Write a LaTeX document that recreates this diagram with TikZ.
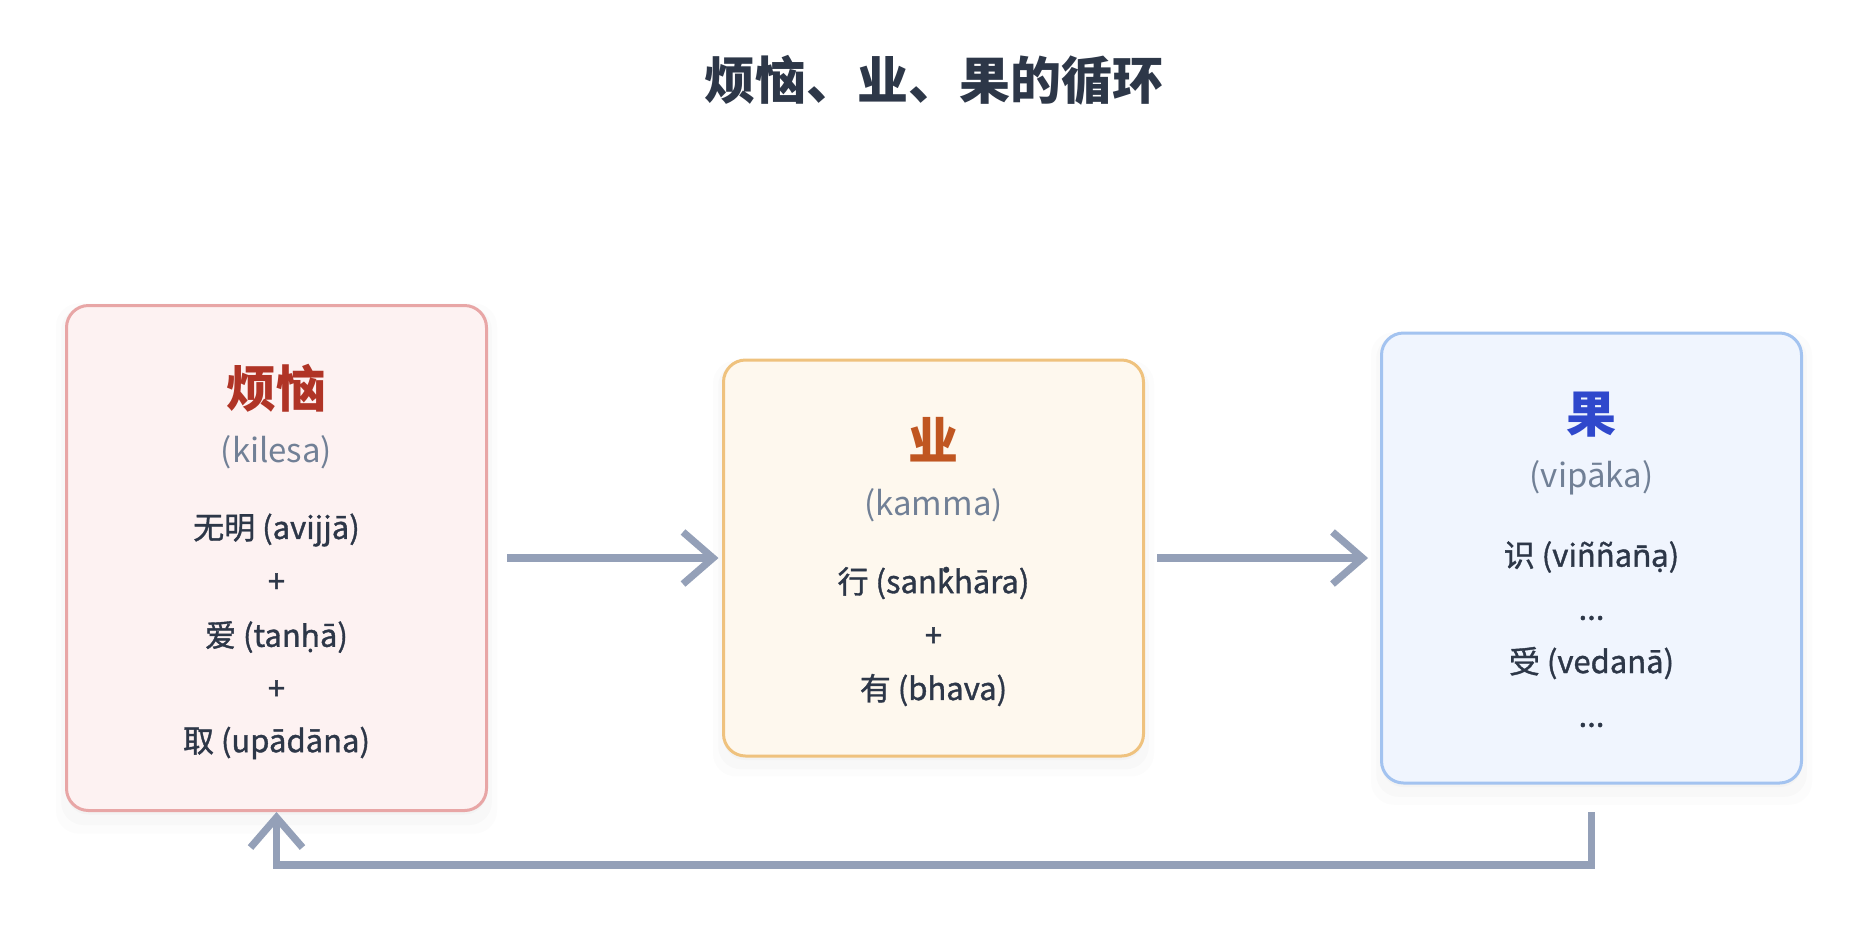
\documentclass[tikz,border=0pt]{standalone}
\usepackage{fontspec}
\setmainfont{Noto Sans CJK SC}
\newfontfamily\itemfont[FakeBold=1.2]{Noto Sans CJK SC}
\newfontfamily\palifont[FakeBold=1.2]{Noto Sans}
\usepackage{tikz}
\usetikzlibrary{arrows.meta,shadows}

\definecolor{ink}{RGB}{45,55,72}
\definecolor{subgray}{RGB}{113,128,150}
\definecolor{flowgray}{RGB}{148,160,184}
\definecolor{kilesared}{RGB}{176,52,38}
\definecolor{kilesafill}{RGB}{253,242,242}
\definecolor{kilesaline}{RGB}{232,166,166}
\definecolor{kammaorange}{RGB}{192,86,33}
\definecolor{kammafill}{RGB}{254,248,238}
\definecolor{kammaline}{RGB}{239,194,126}
\definecolor{vipakablue}{RGB}{47,72,204}
\definecolor{vipakafill}{RGB}{240,245,254}
\definecolor{vipakaline}{RGB}{163,195,240}

\begin{document}
\begin{tikzpicture}[x=0.5pt,y=-0.5pt,
  card/.style={rounded corners=11pt, line width=1.5pt, minimum width=210pt,
    drop shadow={shadow xshift=0pt, shadow yshift=-5pt, opacity=.025, shadow scale=1.05},
    drop shadow={shadow xshift=0pt, shadow yshift=-4pt, opacity=.03, shadow scale=1.025},
    drop shadow={shadow xshift=0pt, shadow yshift=-2pt, opacity=.04}},
  head/.style={font=\bfseries\fontsize{25}{30}\selectfont},
  pali/.style={text=subgray, font=\fontsize{16.5}{20}\selectfont},
  entry/.style={text=ink, font=\itemfont\fontsize{15.5}{18}\selectfont},
  flow/.style={draw=flowgray, line width=3.6pt,
    -{Straight Barb[length=15pt, width=26pt]}}]
% canvas
\fill[white] (0,0) rectangle (1872,944);
\useasboundingbox (0,0) rectangle (1872,944);
% title
\node[text=ink, font=\bfseries\fontsize{25.5}{30}\selectfont] (title) at (934,80) {烦恼、业、果的循环};
% cards
\node[card, fill=kilesafill, draw=kilesaline, minimum height=252.5pt] (kilesa) at (276.5,558) {};
\node[card, fill=kammafill, draw=kammaline, minimum height=198pt] (kamma) at (933.5,558) {};
\node[card, fill=vipakafill, draw=vipakaline, minimum height=225pt] (vipaka) at (1591.5,558) {};
% kilesa text
\node[head, text=kilesared] (kilesaname) at (276.5,388) {烦恼};
\node[pali] (kilesapali) at (276.5,452) {(kilesa)};
\node[entry] (avijja) at (276.5,530) {无明 (avijja^^^^0304)};
\node[entry] (plusa) at (276.5,583) {+};
\node[entry] (tanha) at (276.5,637) {爱 (tan{\palifont ^^^^1e25}a^^^^0304)};
\node[entry] (plusb) at (276.5,690) {+};
\node[entry] (upadana) at (276.5,743) {取 (upa^^^^0304da^^^^0304na)};
% kamma text
\node[head, text=kammaorange] (kammaname) at (933.5,440) {业};
\node[pali] (kammapali) at (933.5,505) {(kamma)};
\node[entry] (sankhara) at (933.5,583) {行 (san^^^^0307kha^^^^0304ra)};
\node[entry] (plusc) at (933.5,637) {+};
\node[entry] (bhava) at (933.5,690) {有 (bhava)};
% vipaka text
\node[head, text=vipakablue] (vipakaname) at (1591.5,415) {果};
\node[pali] (vipakapali) at (1591.5,478) {(vipa^^^^0304ka)};
\node[entry] (vinnana) at (1591.5,557) {识 (vi^^^^00f1^^^^00f1a{\palifont n^^^^0304^^^^1ea1})};
\node[entry] (dotsa) at (1591.5,618) {...};
\node[entry] (vedana) at (1591.5,663) {受 (vedana^^^^0304)};
\node[entry] (dotsb) at (1591.5,725) {...};
% cycle arrows
\draw[flow] ([xshift=9.5pt]kilesa.east) -- ([xshift=-1.75pt]kamma.west);
\draw[flow] ([xshift=6pt]kamma.east) -- ([xshift=-6pt]vipaka.west);
\draw[flow] ([yshift=-13.75pt]vipaka.south) -- ++(0,53) -| (kilesa.south);
\end{tikzpicture}
\end{document}
